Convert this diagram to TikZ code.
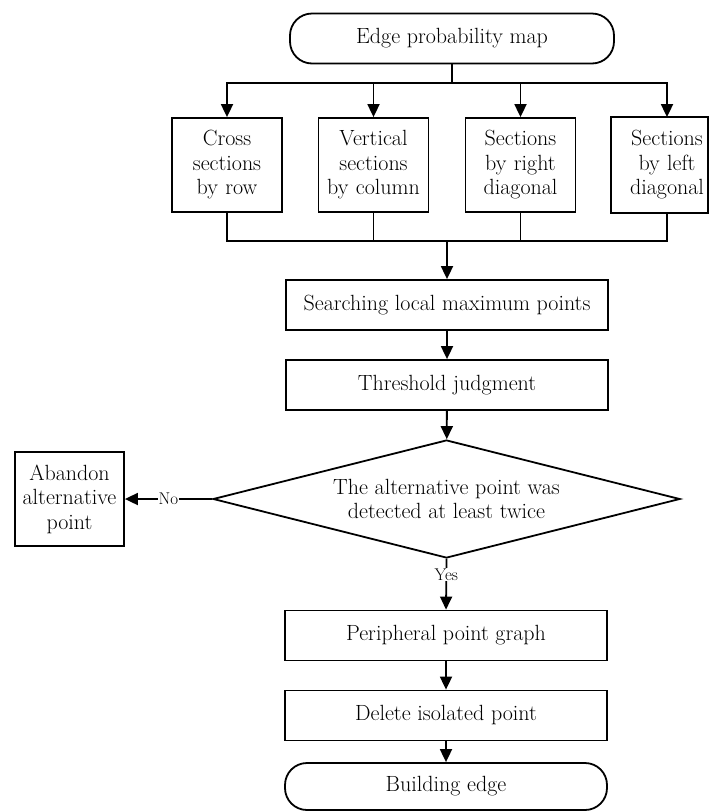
\documentclass[tikz,border=0pt]{standalone}
\usepackage{fontspec}
\usetikzlibrary{shapes.geometric,arrows.meta,positioning}
\begin{document}
\begin{tikzpicture}[x=1pt,y=-1pt,line width=1.8pt,
	font=\fontsize{22}{24.5}\selectfont,
	box/.style={draw, rectangle, minimum width=322pt, minimum height=50pt, inner sep=0pt},
	sect/.style={draw, rectangle, minimum width=110pt, minimum height=94pt, text width=106pt, align=center, inner sep=0pt},
	term/.style={draw, rounded corners=22pt, minimum width=324pt, minimum height=50pt, inner sep=0pt},
	decide/.style={draw, diamond, minimum width=467pt, minimum height=118pt, inner sep=0pt, aspect=4, align=center},
	arr/.style={-{Triangle[length=13pt,width=12pt]}},
	lab/.style={font=\fontsize{17}{19}\selectfont, fill=white, inner sep=1pt}]
	\useasboundingbox (0,0) rectangle (709,812);
	
	\node[term] (start) at (452,38.5) {Edge probability map};
	
	\node[sect] (row) at (227,165) {Cross\\sections\\by row};
	\node[sect] (col) at (373.5,165) {Vertical\\sections\\by column};
	\node[sect] (rdiag) at (520.5,165) {Sections\\by right\\diagonal};
	\node[sect, draw=none] (ldiag) at (667,165) {Sections\\by left\\diagonal};
	\draw (ldiag.north west) rectangle ([xshift=-15pt]ldiag.south east);
	
	\node[box] (search) at (447,305) {Searching local maximum points};
	\node[box] (thresh) at (447,385) {Threshold judgment};
	\node[decide] (twice) at (446.5,499) {The alternative point was\\detected at least twice};
	\node[sect, minimum width=109pt] (abandon) at (69.5,499) {Abandon\\alternative\\point};
	\node[box] (periph) at (446,635.5) {Peripheral point graph};
	\node[box] (isolated) at (446,715.5) {Delete isolated point};
	\node[term, minimum width=322pt, minimum height=47pt] (finish) at (446,786.5) {Building edge};
	
	% split into the four sections
	\foreach \n in {row,col,rdiag,ldiag}
		\draw[arr] (start.south) -- ++(0,18.5) -| (\n.north);
	
	% gather them again
	\draw (row.south) -- ++(0,28) -| (ldiag.south);
	\draw (col.south) -- ++(0,28);
	\draw (rdiag.south) -- ++(0,28);
	\draw[arr] (search.north |- 0,240) -- (search.north);
	
	\draw[arr] (search) -- (thresh);
	\draw[arr] (thresh) -- (twice);
	\draw[arr] (twice.west) -- node[lab]{No} (abandon.east);
	\draw[arr] (twice.south) -- node[lab, pos=0.31]{Yes} (periph.north);
	\draw[arr] (periph) -- (isolated);
	\draw[arr] (isolated) -- (finish);
\end{tikzpicture}
\end{document}
